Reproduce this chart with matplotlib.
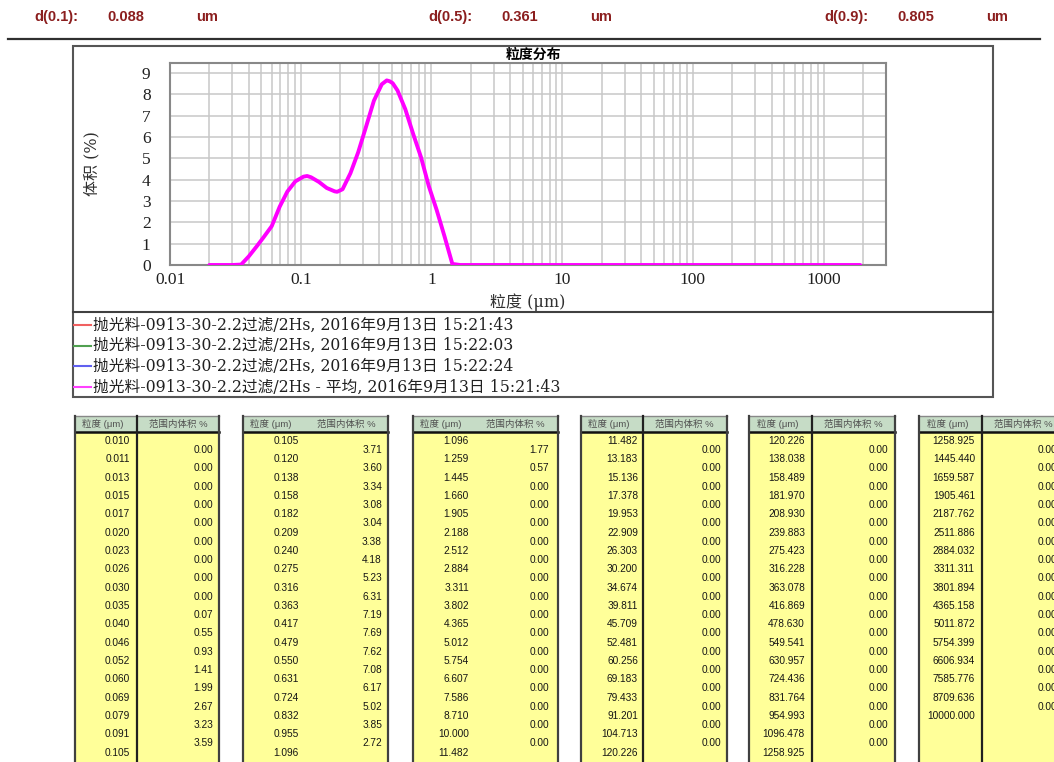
import matplotlib
matplotlib.use("Agg")
import matplotlib.pyplot as plt
from matplotlib.patches import Rectangle
from matplotlib.ticker import LogLocator, FixedLocator, NullFormatter

CJK = ["Noto Sans CJK SC", "DejaVu Sans"]
SERIF_CJK = ["DejaVu Serif", "Noto Sans CJK SC", "DejaVu Sans"]
SANS_CJK = ["Liberation Sans", "Noto Sans CJK SC", "DejaVu Sans"]

# summary diameters
d_labels = ["d(0.1):", "d(0.5):", "d(0.9):"]
d_values = [0.088, 0.361, 0.805]
d_unit = "um"

# averaged distribution curve
curve_size = [0.020, 0.030, 0.035, 0.040, 0.046, 0.052, 0.060, 0.069, 0.079, 0.091,
              0.105, 0.112, 0.120, 0.138, 0.158, 0.182, 0.190, 0.209, 0.240, 0.275,
              0.316, 0.363, 0.417, 0.455, 0.479, 0.505, 0.550, 0.631, 0.724, 0.832,
              0.955, 1.096, 1.259, 1.445, 1.660, 1905.461]
curve_vol = [0.00, 0.00, 0.02, 0.40, 0.87, 1.30, 1.82, 2.73, 3.44, 3.92,
             4.14, 4.17, 4.11, 3.89, 3.61, 3.45, 3.43, 3.55, 4.30, 5.28,
             6.48, 7.70, 8.47, 8.65, 8.61, 8.52, 8.18, 7.30, 6.15, 5.05,
             3.69, 2.58, 1.34, 0.05, 0.00, 0.00]

legend_labels = [
    "抛光料-0913-30-2.2过滤/2Hs, 2016年9月13日 15:21:43",
    "抛光料-0913-30-2.2过滤/2Hs, 2016年9月13日 15:22:03",
    "抛光料-0913-30-2.2过滤/2Hs, 2016年9月13日 15:22:24",
    "抛光料-0913-30-2.2过滤/2Hs - 平均, 2016年9月13日 15:21:43",
]
legend_colors = ["#f06060", "#50a050", "#6060f0", "#ff40ff"]

x_ticks = [0.01, 0.1, 1, 10, 100, 1000]
x_ticklabels = ["0.01", "0.1", "1", "10", "100", "1000"]
y_ticks = [0, 1, 2, 3, 4, 5, 6, 7, 8, 9]

# size classes (um) and volume in each class (%)
sizes = [
    0.010, 0.011, 0.013, 0.015, 0.017, 0.020, 0.023, 0.026, 0.030, 0.035,
    0.040, 0.046, 0.052, 0.060, 0.069, 0.079, 0.091,
    0.105, 0.120, 0.138, 0.158, 0.182, 0.209, 0.240, 0.275, 0.316, 0.363,
    0.417, 0.479, 0.550, 0.631, 0.724, 0.832, 0.955,
    1.096, 1.259, 1.445, 1.660, 1.905, 2.188, 2.512, 2.884, 3.311, 3.802,
    4.365, 5.012, 5.754, 6.607, 7.586, 8.710, 10.000,
    11.482, 13.183, 15.136, 17.378, 19.953, 22.909, 26.303, 30.200, 34.674, 39.811,
    45.709, 52.481, 60.256, 69.183, 79.433, 91.201, 104.713,
    120.226, 138.038, 158.489, 181.970, 208.930, 239.883, 275.423, 316.228, 363.078, 416.869,
    478.630, 549.541, 630.957, 724.436, 831.764, 954.993, 1096.478,
    1258.925, 1445.440, 1659.587, 1905.461, 2187.762, 2511.886, 2884.032, 3311.311, 3801.894,
    4365.158, 5011.872, 5754.399, 6606.934, 7585.776, 8709.636, 10000.000,
]
volumes = [
    0.00, 0.00, 0.00, 0.00, 0.00, 0.00, 0.00, 0.00, 0.00, 0.07, 0.55, 0.93, 1.41, 1.99, 2.67, 3.23, 3.59,
    3.71, 3.60, 3.34, 3.08, 3.04, 3.38, 4.18, 5.23, 6.31, 7.19, 7.69, 7.62, 7.08, 6.17, 5.02, 3.85, 2.72,
    1.77, 0.57, 0.00, 0.00, 0.00, 0.00, 0.00, 0.00, 0.00, 0.00, 0.00, 0.00, 0.00, 0.00, 0.00, 0.00, 0.00,
    0.00, 0.00, 0.00, 0.00, 0.00, 0.00, 0.00, 0.00, 0.00, 0.00, 0.00, 0.00, 0.00, 0.00, 0.00, 0.00, 0.00,
    0.00, 0.00, 0.00, 0.00, 0.00, 0.00, 0.00, 0.00, 0.00, 0.00, 0.00, 0.00, 0.00, 0.00, 0.00, 0.00, 0.00,
    0.00, 0.00, 0.00, 0.00, 0.00, 0.00, 0.00, 0.00, 0.00, 0.00, 0.00, 0.00, 0.00, 0.00, 0.00,
]
col_headers = ["粒度 (μm)", "范围内体积 %"]

W, H = 1054, 762
fig = plt.figure(figsize=(W / 100, H / 100), dpi=100)
fig.patch.set_facecolor("white")

# page layer in pixel units (y down)
bg = fig.add_axes([0, 0, 1, 1])
bg.set_xlim(0, W)
bg.set_ylim(H, 0)
bg.axis("off")

# header line with d-values
red = "#8b1e1e"
for i, (lab, val) in enumerate(zip(d_labels, d_values)):
    x0 = [34, 428, 824][i]
    bg.text(x0, 17, lab, color=red, fontsize=10.5, fontweight="bold",
            family="Liberation Sans", va="center", ha="left")
    bg.text(x0 + 73, 17, f"{val:.3f}", color=red, fontsize=10.5, fontweight="bold",
            family="Liberation Sans", va="center", ha="left")
    bg.text(x0 + 162, 17, d_unit, color=red, fontsize=10.5, fontweight="bold",
            family="Liberation Sans", va="center", ha="left")
bg.plot([8, 1040], [39, 39], color="#303030", lw=1.6)

# chart frame and legend box
bg.add_patch(Rectangle((73, 46), 920, 351, fill=False, ec="#555555", lw=1.5))
bg.plot([73, 993], [312, 312], color="#404040", lw=1.5)
bg.text(533, 55, "粒度分布", family=CJK, fontsize=10, fontweight="bold",
        ha="center", va="center", color="black")

for i, (lab, c) in enumerate(zip(legend_labels, legend_colors)):
    y = 325 + i * 20.7
    bg.plot([74, 91], [y, y], color=c, lw=1.5)
    bg.text(93, y, lab, family=SERIF_CJK, fontsize=11.3, ha="left", va="center",
            color="#202020")

# distribution plot
ax = fig.add_axes([170 / W, 1 - 265 / H, 716 / W, 202.3 / H])
ax.set_xscale("log")
ax.plot(curve_size, curve_vol, color="#ff00ff", lw=2.8, solid_capstyle="round",
        solid_joinstyle="round", zorder=3)
ax.set_xlim(0.01, 3000)
ax.set_ylim(0, 9.48)
ax.xaxis.set_major_locator(FixedLocator(x_ticks))
ax.set_xticklabels(x_ticklabels)
ax.xaxis.set_minor_locator(LogLocator(base=10, subs=range(2, 10), numticks=20))
ax.xaxis.set_minor_formatter(NullFormatter())
ax.set_yticks(y_ticks)
ax.set_axisbelow(True)
ax.grid(which="both", axis="x", color="#c8c8c8", lw=1.1)
ax.grid(which="major", axis="y", color="#c8c8c8", lw=1.1)
ax.tick_params(which="both", length=0)
ax.tick_params(axis="x", pad=5)
ax.tick_params(axis="y", pad=14)
for t in ax.get_xticklabels() + ax.get_yticklabels():
    t.set_family("Liberation Serif")
    t.set_fontsize(12.5)
    t.set_color("#202020")
for s in ax.spines.values():
    s.set_color("#888888")
    s.set_linewidth(1.5)

ax.set_xlabel("粒度 (μm)", family=SERIF_CJK, fontsize=11.5, color="#303030")
ax.xaxis.set_label_coords((528 - 170) / 716, (265 - 302) / 202.3)
ax.xaxis.label.set_va("center")
ax.set_ylabel("体积 (%)", family=SERIF_CJK, fontsize=11.5, color="#303030")
ax.yaxis.set_label_coords((92 - 170) / 716, 0.5)
ax.yaxis.label.set_va("center")

# class tables
lefts = [75, 243, 413, 581, 749, 919]
dividers = [137, 305, 474, 643, 812, 982]
has_div = [True, False, False, True, True, True]
rights = [219, 388, 558, 727, 895, 1060]
size_rx = [130, 299, 469, 638, 805, 975]
val_rx = [213, 382, 549, 721, 888, 1057]
top, hb = 416, 432
step = 18.33
for k in range(6):
    L, D, R = lefts[k], dividers[k], rights[k]
    bg.add_patch(Rectangle((L, top), R - L, hb - top, fc="#c6dcc6", ec="none"))
    bg.add_patch(Rectangle((L, hb), R - L, H - hb, fc="#ffff99", ec="none"))
    bg.plot([L, R], [top, top], color="#888888", lw=1.0)
    bg.plot([L, R], [hb, hb], color="#101010", lw=1.8)
    bg.plot([L, L], [top, H], color="#404040", lw=1.6)
    bg.plot([R, R], [top, H], color="#404040", lw=1.6)
    if has_div[k]:
        bg.plot([D, D], [top, H], color="#202020", lw=1.6)
    bg.text((L + D) / 2 - 3, (top + hb) / 2, col_headers[0], family=SANS_CJK,
            fontsize=6.8, ha="center", va="center", color="#505050")
    bg.text(D + 41, (top + hb) / 2, col_headers[1], family=SANS_CJK,
            fontsize=6.8, ha="center", va="center", color="#505050")
    ks = sizes[17 * k:17 * k + 18]
    kv = volumes[17 * k:17 * k + 17]
    for i, s in enumerate(ks):
        bg.text(size_rx[k], 441 + i * step, f"{s:.3f}", family="Liberation Sans",
                fontsize=7.3, ha="right", va="center", color="#151515")
    for i, v in enumerate(kv):
        bg.text(val_rx[k], 450 + i * step, f"{v:.2f}", family="Liberation Sans",
                fontsize=7.3, ha="right", va="center", color="#151515")

fig.savefig("out.png", dpi=100)
